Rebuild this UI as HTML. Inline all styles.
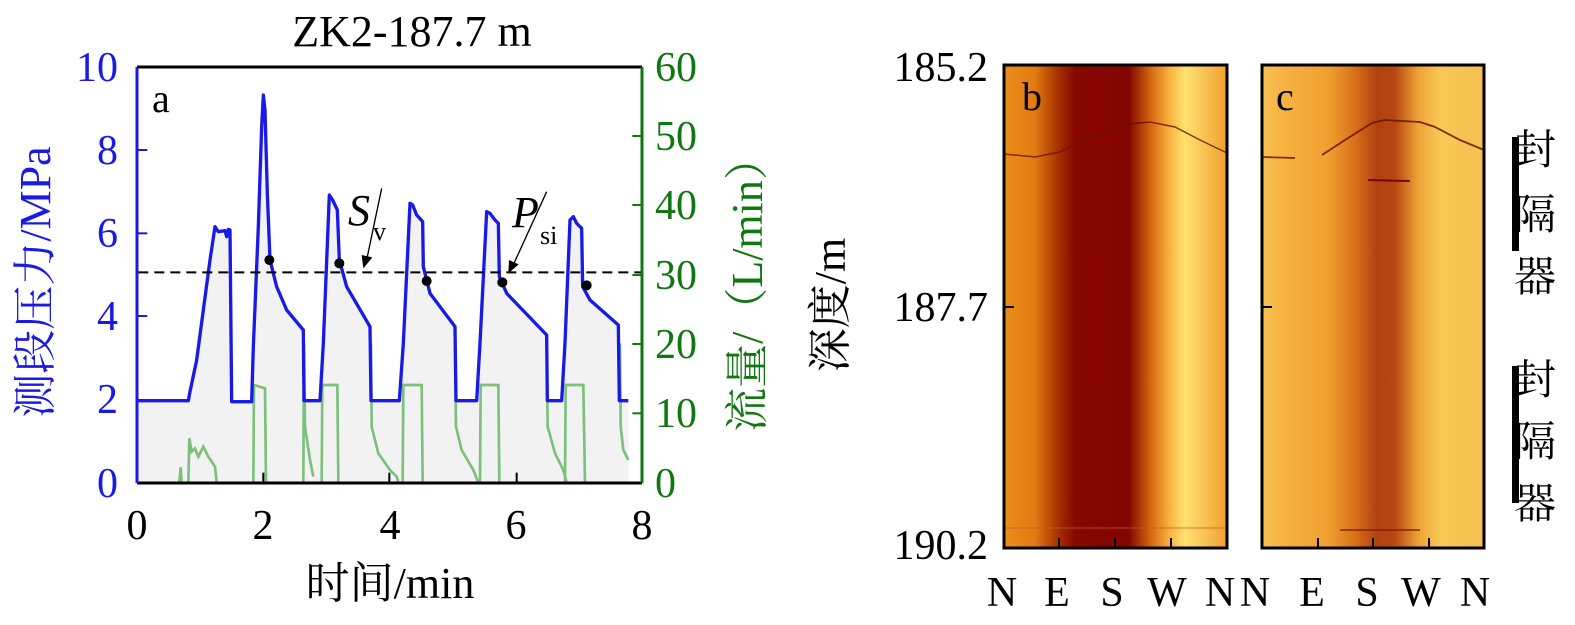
<!DOCTYPE html>
<html><head><meta charset="utf-8"><style>
html,body{margin:0;padding:0;background:#fff;}
svg{display:block;}
text{font-family:"Liberation Serif","Noto Serif CJK SC",serif;}
</style></head><body>
<svg width="1575" height="625" viewBox="0 0 1575 625" xmlns="http://www.w3.org/2000/svg">
<defs>
<linearGradient id="gb" x1="0" x2="1" y1="0" y2="0">
<stop offset="0" stop-color="#ec8e1c"/>
<stop offset="0.14" stop-color="#e27a12"/>
<stop offset="0.24" stop-color="#a83200"/>
<stop offset="0.32" stop-color="#870600"/>
<stop offset="0.56" stop-color="#840400"/>
<stop offset="0.66" stop-color="#d66a10"/>
<stop offset="0.74" stop-color="#f7b040"/>
<stop offset="0.81" stop-color="#ffe26e"/>
<stop offset="0.86" stop-color="#fbd060"/>
<stop offset="1" stop-color="#f0a030"/>
</linearGradient>
<linearGradient id="gc" x1="0" x2="1" y1="0" y2="0">
<stop offset="0" stop-color="#f7c050"/>
<stop offset="0.12" stop-color="#f5b040"/>
<stop offset="0.3" stop-color="#f0a030"/>
<stop offset="0.42" stop-color="#d87018"/>
<stop offset="0.52" stop-color="#b04010"/>
<stop offset="0.6" stop-color="#b84810"/>
<stop offset="0.7" stop-color="#eea035"/>
<stop offset="0.8" stop-color="#f8c855"/>
<stop offset="1" stop-color="#f5c050"/>
</linearGradient>
</defs>

<!-- Panel a -->
<text x="412" y="46" font-size="44" text-anchor="middle">ZK2-187.7 m</text>
<g transform="translate(130,60) scale(0.33333)">
<path d="M25,1022 L175,1022 L180,995 L200,900 L220,750 L240,600 L255,500 L265,515 L285,512 L290,530 L295,508 L300,510 L305,1025 L365,1025 L370,860 L385,500 L395,200 L400,105 L405,150 L412,400 L420,600 L440,680 L470,750 L520,810 L522,1022 L570,1022 L580,850 L598,405 L608,420 L622,450 L628,600 L650,680 L720,800 L723,1022 L808,1022 L820,850 L840,430 L848,435 L860,465 L878,485 L880,620 L900,700 L975,800 L978,1022 L1040,1022 L1050,850 L1070,455 L1080,460 L1095,480 L1105,490 L1108,650 L1130,700 L1250,825 L1252,1022 L1295,1022 L1305,850 L1320,480 L1330,470 L1340,490 L1355,505 L1358,680 L1380,720 L1465,795 L1468,1022 L1495,1022 L1495,1268 L25,1268 Z" fill="#f2f2f2"/>
<g fill="none" stroke="#7cc07c" stroke-width="8">
<path d="M148,1268 L152,1222 L155,1268"/>
<path d="M175,1268 L178,1135 L185,1175 L195,1165 L205,1190 L220,1160 L235,1190 L255,1220 L260,1268"/>
<path d="M370,1268 L372,975 L405,985 L408,1268"/>
<path d="M520,1268 L522,850 L525,1100 L540,1200 L550,1250"/>
<path d="M575,1268 L577,975 L622,975 L625,1268"/>
<path d="M723,850 L725,1100 L745,1180 L780,1230 L800,1250 L805,1268"/>
<path d="M818,1268 L820,975 L875,975 L878,1268"/>
<path d="M975,850 L978,1100 L995,1170 L1030,1230 L1045,1268"/>
<path d="M1050,1268 L1052,975 L1105,975 L1108,1268"/>
<path d="M1250,850 L1253,1100 L1275,1180 L1300,1230 L1310,1268"/>
<path d="M1305,1268 L1307,975 L1360,975 L1365,1268"/>
<path d="M1470,850 L1472,1100 L1480,1170 L1495,1200"/>
</g>
<path d="M25,1022 L175,1022 L180,995 L200,900 L220,750 L240,600 L255,500 L265,515 L285,512 L290,530 L295,508 L300,510 L305,1025 L365,1025 L370,860 L385,500 L395,200 L400,105 L405,150 L412,400 L420,600 L440,680 L470,750 L520,810 L522,1022 L570,1022 L580,850 L598,405 L608,420 L622,450 L628,600 L650,680 L720,800 L723,1022 L808,1022 L820,850 L840,430 L848,435 L860,465 L878,485 L880,620 L900,700 L975,800 L978,1022 L1040,1022 L1050,850 L1070,455 L1080,460 L1095,480 L1105,490 L1108,650 L1130,700 L1250,825 L1252,1022 L1295,1022 L1305,850 L1320,480 L1330,470 L1340,490 L1355,505 L1358,680 L1380,720 L1465,795 L1468,1022 L1495,1022" fill="none" stroke="#1a1ae6" stroke-width="10" stroke-linejoin="round"/>
<line x1="25" y1="637" x2="1537" y2="637" stroke="#000" stroke-width="6" stroke-dasharray="30,18"/>
<g fill="#000">
<circle cx="418" cy="600" r="15"/><circle cx="628" cy="610" r="15"/><circle cx="890" cy="663" r="15"/><circle cx="1117" cy="667" r="15"/><circle cx="1370" cy="676" r="15"/>
</g>
<line x1="755" y1="385" x2="712" y2="590" stroke="#000" stroke-width="4"/>
<polygon points="700,625 695,585 727,592" fill="#000"/>
<line x1="1250" y1="395" x2="1152" y2="610" stroke="#000" stroke-width="4"/>
<polygon points="1135,640 1137,600 1166,613" fill="#000"/>
<g stroke="#1a1ae6" stroke-width="6"><line x1="22" y1="270" x2="52" y2="270"/><line x1="22" y1="520" x2="52" y2="520"/><line x1="22" y1="768" x2="52" y2="768"/><line x1="22" y1="1020" x2="52" y2="1020"/></g>
<g stroke="#117711" stroke-width="6"><line x1="1507" y1="228" x2="1537" y2="228"/><line x1="1507" y1="435" x2="1537" y2="435"/><line x1="1507" y1="645" x2="1537" y2="645"/><line x1="1507" y1="852" x2="1537" y2="852"/><line x1="1507" y1="1060" x2="1537" y2="1060"/></g>
<g stroke="#000" stroke-width="6"><line x1="400" y1="1268" x2="400" y2="1238"/><line x1="778" y1="1268" x2="778" y2="1238"/><line x1="1160" y1="1268" x2="1160" y2="1238"/></g>
</g>
<line x1="137" y1="67" x2="642" y2="67" stroke="#000" stroke-width="3"/>
<line x1="137" y1="483" x2="642" y2="483" stroke="#000" stroke-width="3"/>
<line x1="137" y1="67" x2="137" y2="483" stroke="#1a1ae6" stroke-width="3"/>
<line x1="642" y1="67" x2="642" y2="483" stroke="#117711" stroke-width="3"/>
<text x="152" y="112" font-size="40">a</text>
<text x="348" y="225" font-size="44" font-style="italic">S</text><text x="373" y="240" font-size="26">v</text>
<text x="512" y="227" font-size="44" font-style="italic">P</text><text x="540" y="244" font-size="26">si</text>
<g fill="#1a1ae6" font-size="42" text-anchor="end">
<text x="118" y="81">10</text><text x="118" y="164">8</text><text x="118" y="247">6</text><text x="118" y="330">4</text><text x="118" y="413">2</text><text x="118" y="497">0</text>
</g>
<g fill="#117711" font-size="42">
<text x="655" y="81">60</text><text x="655" y="150">50</text><text x="655" y="219">40</text><text x="655" y="289">30</text><text x="655" y="358">20</text><text x="655" y="427">10</text><text x="655" y="497">0</text>
</g>
<g fill="#000" font-size="42" text-anchor="middle">
<text x="137" y="539">0</text><text x="263" y="539">2</text><text x="390" y="539">4</text><text x="516" y="539">6</text><text x="642" y="539">8</text>
</g>
<text x="390" y="598" font-size="44" text-anchor="middle">时间/min</text>
<text transform="translate(50,282) rotate(-90)" font-size="44" fill="#1a1ae6" text-anchor="middle">测段压力/MPa</text>
<text transform="translate(762,284) rotate(-90)" font-size="44" fill="#117711" text-anchor="middle">流量/（L/min）</text>

<!-- Panel b -->
<rect x="1004" y="65" width="223" height="483" fill="url(#gb)"/>
<path d="M1004,154 L1035,157 L1060,152 L1090,137 L1118,125 L1150,122 L1175,127 L1200,140 L1227,153" fill="none" stroke="#6a1000" stroke-width="1.5" opacity="0.8"/>
<path d="M1004,528 L1227,528" stroke="#c06020" stroke-width="1.5" opacity="0.5"/>
<rect x="1004" y="65" width="223" height="483" fill="none" stroke="#000" stroke-width="3"/>
<g stroke="#000" stroke-width="2"><line x1="1059" y1="548" x2="1059" y2="538"/><line x1="1115" y1="548" x2="1115" y2="538"/><line x1="1171" y1="548" x2="1171" y2="538"/><line x1="1004" y1="307" x2="1014" y2="307"/></g>
<text x="1022" y="110" font-size="40">b</text>
<!-- Panel c -->
<rect x="1262" y="65" width="222" height="483" fill="url(#gc)"/>
<path d="M1262,157 L1295,158 M1322,155 L1345,140 L1372,123 L1385,120 L1420,122 L1435,127 L1460,140 L1484,150" fill="none" stroke="#6a1000" stroke-width="1.8" opacity="0.85"/>
<path d="M1368,180 L1410,181" stroke="#800000" stroke-width="2"/>
<path d="M1340,530 L1420,530" stroke="#802000" stroke-width="2" opacity="0.7"/>
<rect x="1262" y="65" width="222" height="483" fill="none" stroke="#000" stroke-width="3"/>
<g stroke="#000" stroke-width="2"><line x1="1318" y1="548" x2="1318" y2="538"/><line x1="1373" y1="548" x2="1373" y2="538"/><line x1="1429" y1="548" x2="1429" y2="538"/><line x1="1262" y1="307" x2="1272" y2="307"/></g>
<text x="1276" y="110" font-size="40">c</text>

<g font-size="42" text-anchor="end"><text x="988" y="81">185.2</text><text x="988" y="321">187.7</text><text x="988" y="559">190.2</text></g>
<text transform="translate(845,305) rotate(-90)" font-size="44" text-anchor="middle">深度/m</text>
<g font-size="42" text-anchor="middle">
<text x="1002" y="606">N</text><text x="1057" y="606">E</text><text x="1112" y="606">S</text><text x="1167" y="606">W</text><text x="1220" y="606">N</text>
<text x="1255" y="606">N</text><text x="1312" y="606">E</text><text x="1367" y="606">S</text><text x="1421" y="606">W</text><text x="1475" y="606">N</text>
</g>
<rect x="1512" y="137" width="7" height="114" fill="#000"/>
<rect x="1512" y="366" width="7" height="137" fill="#000"/>
<g font-size="42" text-anchor="middle">
<text x="1535" y="164">封</text><text x="1535" y="229">隔</text><text x="1535" y="291">器</text>
<text x="1535" y="394">封</text><text x="1535" y="456">隔</text><text x="1535" y="518">器</text>
</g>
</svg>
</body></html>
